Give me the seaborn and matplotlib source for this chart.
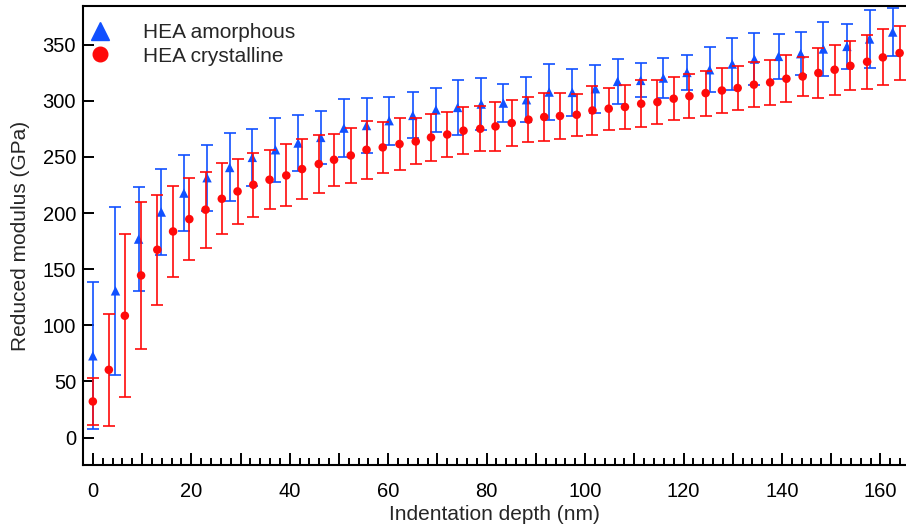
import matplotlib
matplotlib.use("Agg")
import matplotlib.pyplot as plt
from matplotlib.lines import Line2D
from matplotlib.ticker import MultipleLocator, FuncFormatter
import pandas as pd
import seaborn as sns

# Nanoindentation: reduced modulus vs. indentation depth (mean ± std)
amorph_depth = [0, 4.6, 9.3, 13.9, 18.5, 23.2, 27.8, 32.4, 37.1, 41.7, 46.3, 51.0,
                55.6, 60.2, 65.0, 69.7, 74.1, 78.9, 83.4, 88.1, 92.7, 97.4, 102.1,
                106.6, 111.3, 115.9, 120.7, 125.3, 129.9, 134.4, 139.3, 143.8,
                148.4, 153.2, 157.8, 162.5]
amorph_modulus = [72.8, 130.7, 176.8, 200.9, 217.8, 231.5, 240.6, 249.6, 256.4,
                  262.4, 267.4, 275.7, 278.0, 282.3, 287.0, 292.0, 294.1, 297.1,
                  298.0, 301.0, 307.8, 307.5, 310.8, 317.3, 318.2, 320.3, 325.3,
                  327.7, 332.8, 337.2, 339.6, 342.0, 346.2, 348.5, 355.1, 361.3]
amorph_err = [65.5, 75.0, 46.0, 38.5, 33.8, 29.5, 30.3, 25.7, 28.5, 25.0, 23.8,
              26.0, 24.2, 21.4, 20.5, 19.5, 24.5, 23.4, 16.7, 19.8, 24.6, 21.3,
              21.5, 20.0, 15.2, 17.7, 15.6, 20.0, 23.4, 22.9, 19.9, 19.0, 23.9,
              20.4, 26.0, 21.0]

cryst_depth = [0, 3.25, 6.5, 9.8, 13.1, 16.3, 19.6, 22.9, 26.2, 29.4, 32.6, 35.9,
               39.3, 42.5, 45.9, 49.0, 52.4, 55.6, 58.9, 62.3, 65.6, 68.7, 72.0,
               75.3, 78.7, 81.8, 85.1, 88.5, 91.7, 94.9, 98.3, 101.5, 104.8,
               108.1, 111.4, 114.7, 118.0, 121.2, 124.5, 127.8, 131.0, 134.3,
               137.6, 140.9, 144.2, 147.4, 150.7, 153.9, 157.3, 160.5, 163.9]
cryst_modulus = [32.1, 60.3, 108.5, 144.4, 167.3, 183.6, 194.6, 203.0, 212.7,
                 219.3, 225.2, 229.7, 233.5, 239.2, 243.7, 247.5, 251.3, 256.4,
                 258.5, 261.5, 263.8, 267.4, 270.0, 273.4, 275.1, 277.2, 280.2,
                 283.2, 285.6, 286.5, 287.6, 291.4, 293.0, 294.5, 297.4, 298.9,
                 301.9, 304.2, 306.9, 309.2, 311.4, 314.4, 316.4, 319.7, 321.7,
                 324.8, 327.7, 331.2, 334.8, 338.7, 342.6]
cryst_err = [21.0, 50.0, 72.6, 65.5, 49.0, 40.7, 36.5, 33.7, 31.8, 29.0, 28.4,
             26.4, 27.6, 26.7, 26.0, 23.0, 24.7, 26.0, 23.0, 23.4, 20.5, 20.7,
             20.0, 21.2, 20.0, 21.7, 20.3, 19.8, 21.0, 20.5, 18.5, 21.7, 18.7,
             19.3, 20.8, 19.5, 18.9, 19.7, 20.0, 20.2, 19.4, 20.3, 19.8, 21.0,
             17.8, 22.3, 22.3, 21.8, 24.0, 25.0, 23.7]

labels = ["HEA amorphous", "HEA crystalline"]

amorph = pd.DataFrame({"depth": amorph_depth, "modulus": amorph_modulus, "err": amorph_err})
cryst = pd.DataFrame({"depth": cryst_depth, "modulus": cryst_modulus, "err": cryst_err})

sns.set_theme(style="ticks")
plt.rcParams["font.family"] = ["Liberation Sans", "DejaVu Sans"]

BLUE = "#1150ff"
RED = "#ff0a0a"

fig = plt.figure(figsize=(9.06, 5.24), dpi=100)
ax = fig.add_axes([83 / 906, 59 / 524, 823 / 906, 459 / 524])

ax.errorbar(amorph["depth"], amorph["modulus"], yerr=amorph["err"], fmt="none",
            ecolor=BLUE, elinewidth=1.2, capsize=4, capthick=1.2, zorder=2)
sns.scatterplot(data=amorph, x="depth", y="modulus", marker="^", s=46,
                color=BLUE, edgecolor="none", linewidth=0, ax=ax, zorder=3)

ax.errorbar(cryst["depth"], cryst["modulus"], yerr=cryst["err"], fmt="none",
            ecolor=RED, elinewidth=1.2, capsize=4, capthick=1.2, zorder=4)
sns.scatterplot(data=cryst, x="depth", y="modulus", marker="o", s=38,
                color=RED, edgecolor="none", linewidth=0, ax=ax, zorder=5)

ax.set_xlim(-2.0, 165.2)
ax.set_ylim(-24.5, 384.5)

ax.xaxis.set_major_locator(MultipleLocator(10))
ax.xaxis.set_minor_locator(MultipleLocator(2))
ax.xaxis.set_major_formatter(FuncFormatter(lambda v, p: f"{v:.0f}" if round(v) % 20 == 0 else ""))
ax.yaxis.set_major_locator(MultipleLocator(50))

ax.tick_params(axis="both", which="both", direction="in", colors="black",
               labelsize=14.5, width=1.4)
ax.tick_params(axis="x", which="major", length=9, pad=12)
ax.tick_params(axis="x", which="minor", length=5)
ax.tick_params(axis="y", which="major", length=8, pad=5)
ax.tick_params(axis="y", which="minor", left=False)

for side in ["left", "bottom", "top"]:
    ax.spines[side].set_linewidth(1.5)
    ax.spines[side].set_color("black")
ax.spines["right"].set_visible(False)

ax.set_xlabel("Indentation depth (nm)", fontsize=15, labelpad=3)
ax.set_ylabel("Reduced modulus (GPa)", fontsize=15, labelpad=9)

handles = [
    Line2D([], [], linestyle="none", marker="^", markersize=12.5, color=BLUE),
    Line2D([], [], linestyle="none", marker="o", markersize=10.5, color=RED),
]
ax.legend(handles, labels, loc="upper left", bbox_to_anchor=(0.0055, 0.962),
          frameon=False, fontsize=15, handletextpad=1.44, labelspacing=0.2,
          borderaxespad=0.0, borderpad=0.0, handlelength=1.2)

fig.savefig("out.png", dpi=100)
